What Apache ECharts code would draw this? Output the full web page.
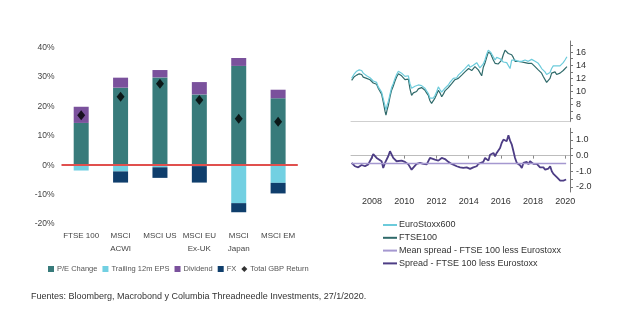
<!DOCTYPE html>
<html><head><meta charset="utf-8">
<script src="https://cdn.jsdelivr.net/npm/echarts@6/dist/echarts.min.js"></script>
<style>html,body{margin:0;padding:0;background:#fff}#c{width:631px;height:327px}</style>
</head><body><div id="c"></div>
<script>
// ---- Left chart data ----
const categories = ['FTSE 100', 'MSCI\nACWI', 'MSCI US', 'MSCI EU\nEx-UK', 'MSCI\nJapan', 'MSCI EM'];
const peChange = [14.4, 26.4, 29.9, 24.1, 33.8, 22.8];
const trailingEps = [-1.8, -2.1, -0.7, -0.3, -12.9, -6.0];
const dividend = [5.5, 3.4, 2.5, 4.2, 2.7, 2.9];
const fx = [0, -3.8, -3.6, -5.6, -3.1, -3.6];
const totalGbpReturn = [17.0, 23.3, 27.7, 22.2, 15.8, 14.8];
const leftTicks = [-20, -10, 0, 10, 20, 30, 40];

// ---- Right chart data (decimal years) ----
const peDates = [2006.74,2006.88,2007.05,2007.21,2007.36,2007.46,2007.57,2007.67,2007.77,2007.88,2007.98,2008.08,2008.19,2008.29,2008.39,2008.50,2008.60,2008.71,2008.81,2008.87,2008.95,2009.01,2009.12,2009.22,2009.32,2009.43,2009.53,2009.64,2009.74,2009.84,2009.95,2010.05,2010.15,2010.26,2010.36,2010.46,2010.57,2010.67,2010.77,2010.88,2010.98,2011.08,2011.19,2011.29,2011.39,2011.50,2011.60,2011.70,2011.81,2011.91,2012.02,2012.12,2012.22,2012.33,2012.43,2012.53,2012.64,2012.74,2012.84,2012.95,2013.05,2013.15,2013.26,2013.36,2013.46,2013.57,2013.67,2013.77,2013.88,2014.00,2014.08,2014.19,2014.29,2014.39,2014.50,2014.60,2014.70,2014.81,2014.91,2015.01,2015.12,2015.22,2015.28,2015.36,2015.43,2015.53,2015.64,2015.74,2015.84,2015.95,2016.05,2016.15,2016.26,2016.36,2016.46,2016.57,2016.67,2016.77,2016.88,2016.98,2017.08,2017.19,2017.29,2017.39,2017.50,2017.60,2017.70,2017.81,2017.91,2018.01,2018.12,2018.22,2018.32,2018.43,2018.53,2018.63,2018.74,2018.84,2018.94,2019.05,2019.15,2019.25,2019.36,2019.46,2019.57,2019.67,2019.77,2019.87,2019.98,2020.10];
const euroStoxx600 = [12.0,12.6,13.1,13.3,13.2,12.8,12.9,12.4,12.5,12.1,12.4,11.6,11.3,11.4,10.7,10.9,9.9,8.8,7.8,7.2,8.0,8.4,9.6,10.6,11.2,12.0,12.6,13.1,13.3,12.8,12.9,12.3,12.6,12.4,11.2,10.5,10.4,10.8,10.6,11.0,10.8,10.9,10.6,10.5,10.1,9.7,9.0,8.7,9.0,9.4,10.0,10.7,10.3,9.9,10.1,10.5,10.8,11.0,11.4,11.7,12.0,12.3,12.1,12.5,12.7,13.0,13.2,13.5,13.7,14.1,13.7,13.8,14.0,14.3,14.4,14.1,13.6,13.4,14.2,14.8,15.7,16.3,16.5,16.0,15.8,15.3,14.8,15.2,15.3,15.0,14.8,14.5,14.8,14.4,14.3,13.5,14.8,15.0,14.8,14.7,14.6,14.8,14.6,14.9,14.8,14.6,14.6,14.8,14.9,14.7,14.6,14.5,14.3,13.9,13.5,13.2,13.0,12.6,12.3,12.9,13.5,13.9,14.1,13.9,13.8,13.9,14.1,14.4,14.8,15.3];
const ftse100 = [11.7,12.2,12.5,12.7,12.6,12.2,12.4,12.0,12.2,11.8,12.0,11.3,11.0,11.1,10.5,10.6,9.6,8.3,7.0,6.4,7.3,7.8,9.2,10.2,10.8,11.6,12.2,12.7,12.9,12.4,12.3,11.8,12.0,11.9,10.4,9.4,9.8,10.1,10.0,10.4,10.5,10.6,10.4,10.2,9.8,9.4,8.6,8.2,8.6,9.0,9.6,10.2,9.8,9.2,9.6,10.1,10.4,10.6,10.9,11.2,11.5,11.8,11.6,12.0,12.2,12.5,12.7,13.0,13.1,13.5,13.2,13.2,13.5,13.8,13.7,13.3,13.0,12.4,13.7,14.3,15.2,16.0,16.2,15.8,15.5,14.8,14.3,14.5,14.2,14.5,14.8,15.6,16.3,16.1,15.8,16.0,15.6,15.2,14.6,14.5,14.6,14.7,14.5,14.6,14.4,14.4,14.3,14.4,14.3,14.0,13.8,13.6,13.3,13.1,12.8,12.3,12.0,11.4,11.1,12.0,12.8,13.0,13.0,12.6,12.5,12.8,13.0,13.2,13.5,13.8];
const spreadDates = [2006.74,2006.94,2007.15,2007.36,2007.57,2007.77,2007.98,2008.08,2008.19,2008.29,2008.39,2008.60,2008.70,2008.81,2009.01,2009.12,2009.22,2009.32,2009.43,2009.53,2009.64,2009.84,2010.05,2010.26,2010.46,2010.57,2010.77,2010.98,2011.19,2011.40,2011.60,2011.71,2011.91,2012.12,2012.33,2012.53,2012.74,2012.95,2013.05,2013.26,2013.47,2013.67,2013.88,2014.09,2014.29,2014.50,2014.60,2014.71,2014.91,2015.02,2015.12,2015.23,2015.33,2015.43,2015.54,2015.64,2015.74,2015.85,2015.95,2016.05,2016.16,2016.26,2016.36,2016.47,2016.57,2016.68,2016.78,2016.88,2016.99,2017.09,2017.19,2017.30,2017.40,2017.50,2017.61,2017.71,2017.81,2017.92,2018.02,2018.12,2018.23,2018.33,2018.43,2018.54,2018.64,2018.75,2018.85,2018.95,2019.06,2019.16,2019.26,2019.37,2019.47,2019.57,2019.68,2019.78,2019.88,2019.99,2020.05];
const spreadValues = [-0.47,-0.68,-0.75,-0.60,-0.68,-0.56,-0.15,0.10,0.06,-0.15,-0.04,-0.36,-0.79,-0.47,-0.04,0.28,0.17,-0.15,-0.04,-0.36,-0.47,-0.32,-0.40,-0.56,-0.90,-0.79,-0.53,-0.47,-0.53,-0.56,-0.15,-0.04,-0.26,-0.32,-0.15,-0.22,-0.40,-0.53,-0.62,-0.68,-0.75,-0.79,-0.75,-0.85,-0.75,-0.68,-0.53,-0.56,-0.40,-0.15,-0.04,-0.32,0.06,-0.04,0.17,-0.04,0.17,0.10,0.49,0.81,1.03,1.13,0.92,1.30,0.96,0.70,0.28,-0.15,-0.47,-0.53,-0.62,-0.79,-0.47,-0.36,-0.40,-0.56,-0.36,-0.26,-0.53,-0.62,-0.53,-0.56,-0.75,-0.68,-0.75,-0.90,-0.96,-0.83,-0.68,-1.00,-1.17,-1.26,-1.38,-1.47,-1.60,-1.68,-1.60,-1.64,-1.53];
const meanSpread = -0.5;
const yearTicks = [2008, 2010, 2012, 2014, 2016, 2018, 2020];
const peLabelTicks = [6, 8, 10, 12, 14, 16];
const peMinorTicks = [6, 7, 8, 9, 10, 11, 12, 13, 14, 15, 16, 17];
const spreadLabelTicks = [-2, -1, 0, 1];
const spreadMinorTicks = [-2, -1.5, -1, -0.5, 0, 0.5, 1, 1.5];
const footnote = 'Fuentes: Bloomberg, Macrobond y Columbia Threadneedle Investments, 27/1/2020.';

const C = {pe:'#387b7b', eps:'#72d0e2', div:'#7a519c', fx:'#0f3e6c', red:'#e0504e',
  euro:'#6ccbdb', ftse:'#2f6a6a', spread:'#4d3d85', mean:'#a598d0'};
const F = 'Liberation Sans, Arial, sans-serif';

const chart = echarts.init(document.getElementById('c'), null, {renderer:'canvas'});
const pairs = (xs, ys) => xs.map((x, i) => [x, ys[i]]);
const xMin = 2006.70, xMax = 2020.29;

chart.setOption({
  animation: false,
  textStyle: {fontFamily: F},
  title: {text: footnote, left: 31, top: 292, padding: 0,
    textStyle: {fontSize: 9, fontWeight: 'normal', color: '#333', fontFamily: F}},
  legend: [
    {left: 48, top: 265, padding: 0, itemWidth: 6, itemHeight: 6, itemGap: 5,
     textStyle: {fontSize: 7.5, color: '#555', fontFamily: F, padding: [0,0,0,-2]},
     data: [{name:'P/E Change', icon:'rect'}, {name:'Trailing 12m EPS', icon:'rect'},
            {name:'Dividend', icon:'rect'}, {name:'FX', icon:'rect'},
            {name:'Total GBP Return', icon:'diamond'}]},
    {orient: 'vertical', left: 383, top: 219.5, padding: 0, itemWidth: 14, itemHeight: 2, itemGap: 1.8,
     textStyle: {fontSize: 9, color: '#333', fontFamily: F, lineHeight: 11, padding: [0,0,0,-3]},
     data: [{name:'EuroStoxx600', icon:'rect'}, {name:'FTSE100', icon:'rect'},
            {name:'Mean spread - FTSE 100 less Eurostoxx', icon:'rect'},
            {name:'Spread - FTSE 100 less Eurostoxx', icon:'rect'}]}
  ],
  grid: [
    {left: 61.5, width: 236.3, top: 47.7, height: 176.3},
    {left: 351, right: 61, top: 41, height: 80.7},
    {left: 351, right: 61, top: 128.3, height: 63.7}
  ],
  xAxis: [
    {type:'category', gridIndex:0, data: categories, axisLine:{show:false}, axisTick:{show:false},
     axisLabel:{fontSize: 8, color:'#444', lineHeight: 12.5, margin: 6, interval: 0}},
    {type:'value', gridIndex:1, min:xMin, max:xMax, axisLine:{lineStyle:{color:'#cfcfcf', width:1}},
     axisTick:{show:false}, axisLabel:{show:false}, splitLine:{show:false}},
    {type:'value', gridIndex:2, min:xMin, max:xMax, axisLine:{lineStyle:{color:'#bdbdbd', width:1}},
     axisTick:{show:true, customValues: yearTicks, length: 3, lineStyle:{color:'#888'}},
     axisLabel:{customValues: yearTicks, formatter: v => String(Math.round(v)), fontSize: 9, color:'#333', margin: 5},
     splitLine:{show:false}}
  ],
  yAxis: [
    {type:'value', gridIndex:0, min:-20, max:40, interval:10, axisLine:{show:false}, axisTick:{show:false},
     splitLine:{show:false}, axisLabel:{formatter:'{value}%', fontSize: 8.5, color:'#444', margin: 7}},
    {type:'value', gridIndex:1, position:'right', min:5.4, max:17.7,
     axisLine:{show:true, lineStyle:{color:'#777'}},
     axisTick:{show:true, customValues: peMinorTicks, length: 3, lineStyle:{color:'#777'}},
     axisLabel:{customValues: peLabelTicks, fontSize: 9, color:'#333', margin: 6},
     splitLine:{show:false}},
    {type:'value', gridIndex:2, position:'right', min:-2.33, max:1.75,
     axisLine:{show:true, lineStyle:{color:'#777'}},
     axisTick:{show:true, customValues: spreadMinorTicks, length: 3, lineStyle:{color:'#777'}},
     axisLabel:{customValues: spreadLabelTicks, formatter: v => v.toFixed(1), fontSize: 9, color:'#333', margin: 6},
     splitLine:{show:false}}
  ],
  series: [
    {name:'P/E Change', type:'bar', stack:'a', xAxisIndex:0, yAxisIndex:0, barWidth:15, data: peChange,
     itemStyle:{color:C.pe},
     markLine:{silent:true, symbol:'none', label:{show:false}, lineStyle:{color:C.red, width:2, type:'solid'},
       data:[{yAxis:0}], z: 10}},
    {name:'Trailing 12m EPS', type:'bar', stack:'a', xAxisIndex:0, yAxisIndex:0, barWidth:15, data: trailingEps,
     itemStyle:{color:C.eps}},
    {name:'Dividend', type:'bar', stack:'a', xAxisIndex:0, yAxisIndex:0, barWidth:15, data: dividend,
     itemStyle:{color:C.div}},
    {name:'FX', type:'bar', stack:'a', xAxisIndex:0, yAxisIndex:0, barWidth:15, data: fx,
     itemStyle:{color:C.fx}},
    {name:'Total GBP Return', type:'scatter', xAxisIndex:0, yAxisIndex:0, data: totalGbpReturn,
     symbol:'diamond', symbolSize:[8,10], itemStyle:{color:'#000'}, z: 5},
    {name:'EuroStoxx600', type:'line', xAxisIndex:1, yAxisIndex:1, data: pairs(peDates, euroStoxx600),
     showSymbol:false, lineStyle:{color:C.euro, width:1.2}, itemStyle:{color:C.euro}, z: 3},
    {name:'FTSE100', type:'line', xAxisIndex:1, yAxisIndex:1, data: pairs(peDates, ftse100),
     showSymbol:false, lineStyle:{color:C.ftse, width:1.2}, itemStyle:{color:C.ftse}, z: 2},
    {name:'Mean spread - FTSE 100 less Eurostoxx', type:'line', xAxisIndex:2, yAxisIndex:2,
     data: [[spreadDates[0], meanSpread], [spreadDates[spreadDates.length-1], meanSpread]],
     showSymbol:false, lineStyle:{color:C.mean, width:1.5}, itemStyle:{color:C.mean}, z: 3},
    {name:'Spread - FTSE 100 less Eurostoxx', type:'line', xAxisIndex:2, yAxisIndex:2,
     data: pairs(spreadDates, spreadValues),
     showSymbol:false, lineStyle:{color:C.spread, width:1.8}, itemStyle:{color:C.spread}, z: 2}
  ]
});
</script></body></html>
